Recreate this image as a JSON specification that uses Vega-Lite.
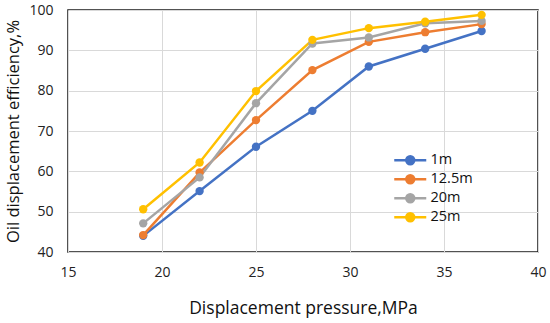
{
  "$schema": "https://vega.github.io/schema/vega-lite/v6.json",
  "width": 470,
  "height": 242,
  "autosize": "none",
  "padding": {"left": 68, "top": 10, "right": 12, "bottom": 71},
  "background": "white",
  "config": {
    "font": "Open Sans",
    "view": {"stroke": "#1a1a1a", "strokeWidth": 1.5},
    "axis": {
      "grid": true,
      "gridColor": "#d9d9d9",
      "gridWidth": 1,
      "domain": false,
      "ticks": false,
      "labelFlush": false,
      "labelFontSize": 14,
      "labelColor": "#222",
      "titleFontSize": 17.5,
      "titleFontWeight": "normal",
      "titleColor": "#111"
    }
  },
  "data": {
    "values": [
      {"p": 19, "v": 44.0, "s": "1m"},
      {"p": 22, "v": 55.1, "s": "1m"},
      {"p": 25, "v": 66.1, "s": "1m"},
      {"p": 28, "v": 75.0, "s": "1m"},
      {"p": 31, "v": 86.0, "s": "1m"},
      {"p": 34, "v": 90.4, "s": "1m"},
      {"p": 37, "v": 94.8, "s": "1m"},
      {"p": 19, "v": 44.2, "s": "12.5m"},
      {"p": 22, "v": 59.7, "s": "12.5m"},
      {"p": 25, "v": 72.7, "s": "12.5m"},
      {"p": 28, "v": 85.1, "s": "12.5m"},
      {"p": 31, "v": 92.1, "s": "12.5m"},
      {"p": 34, "v": 94.5, "s": "12.5m"},
      {"p": 37, "v": 96.5, "s": "12.5m"},
      {"p": 19, "v": 47.1, "s": "20m"},
      {"p": 22, "v": 58.5, "s": "20m"},
      {"p": 25, "v": 76.9, "s": "20m"},
      {"p": 28, "v": 91.7, "s": "20m"},
      {"p": 31, "v": 93.2, "s": "20m"},
      {"p": 34, "v": 96.7, "s": "20m"},
      {"p": 37, "v": 97.3, "s": "20m"},
      {"p": 19, "v": 50.6, "s": "25m"},
      {"p": 22, "v": 62.2, "s": "25m"},
      {"p": 25, "v": 79.9, "s": "25m"},
      {"p": 28, "v": 92.6, "s": "25m"},
      {"p": 31, "v": 95.5, "s": "25m"},
      {"p": 34, "v": 97.1, "s": "25m"},
      {"p": 37, "v": 98.8, "s": "25m"}
    ]
  },
  "encoding": {
    "x": {
      "field": "p", "type": "quantitative",
      "scale": {"domain": [15, 40], "nice": false},
      "axis": {"values": [15, 20, 25, 30, 35, 40], "labelPadding": 13, "titlePadding": 20, "title": "Displacement pressure,MPa"}
    },
    "y": {
      "field": "v", "type": "quantitative",
      "scale": {"domain": [40, 100], "nice": false, "zero": false},
      "axis": {"values": [40, 50, 60, 70, 80, 90, 100], "labelPadding": 15, "titlePadding": 7, "titleFontSize": 16.5, "title": "Oil displacement efficiency,%"}
    },
    "color": {
      "field": "s", "type": "nominal",
      "scale": {"domain": ["1m", "12.5m", "20m", "25m"], "range": ["#4472C4", "#ED7D31", "#A5A5A5", "#FFC000"]},
      "legend": {
        "title": null,
        "orient": "none",
        "legendX": 335,
        "legendY": 143,
        "padding": 0,
        "labelFontSize": 14.5,
        "labelColor": "#111",
        "symbolType": "M-3.2,0H3.2M-0.8,0A0.8,0.8 0 1,0 0.8,0A0.8,0.8 0 1,0 -0.8,0",
        "symbolSize": 100,
        "symbolStrokeWidth": 2.5,
        "labelOffset": 13,
        "rowPadding": 0
      }
    }
  },
  "layer": [
    {"mark": {"type": "line", "strokeWidth": 2.5}},
    {"mark": {"type": "point", "filled": true, "opacity": 1, "size": 70}}
  ]
}
